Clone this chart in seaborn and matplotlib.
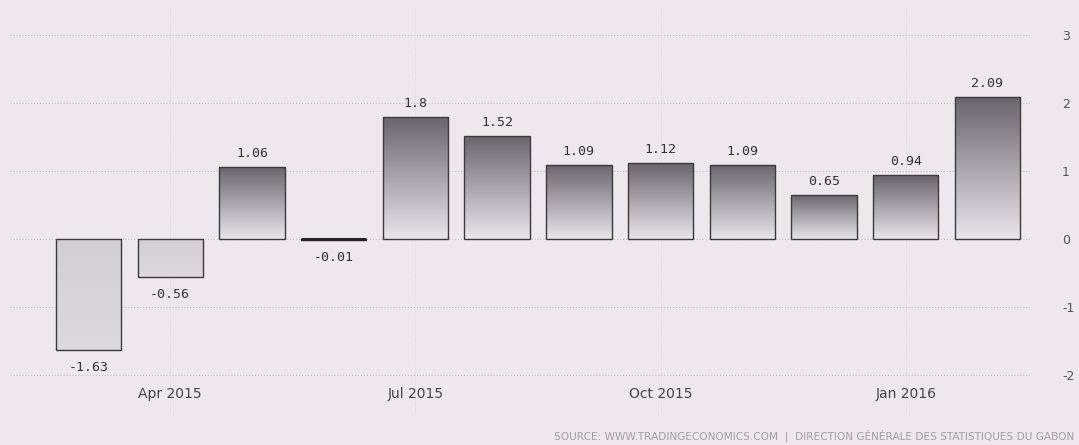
import numpy as np
import pandas as pd
import matplotlib
matplotlib.use("Agg")
import matplotlib.pyplot as plt
import seaborn as sns
from matplotlib.colors import LinearSegmentedColormap

months = ["Mar 2015", "Apr 2015", "May 2015", "Jun 2015", "Jul 2015", "Aug 2015",
          "Sep 2015", "Oct 2015", "Nov 2015", "Dec 2015", "Jan 2016", "Feb 2016"]
values = [-1.63, -0.56, 1.06, -0.01, 1.8, 1.52, 1.09, 1.12, 1.09, 0.65, 0.94, 2.09]
labels = ["-1.63", "-0.56", "1.06", "-0.01", "1.8", "1.52", "1.09", "1.12", "1.09", "0.65", "0.94", "2.09"]
xtick_show = ["Apr 2015", "Jul 2015", "Oct 2015", "Jan 2016"]
yticks = [-2, -1, 0, 1, 2, 3]

bg = "#ece8ec"
sns.set_theme(style="white")
plt.rcParams['font.family'] = ['DejaVu Sans']

fig = plt.figure(figsize=(10.79, 4.45), dpi=100, facecolor=bg)
ax = fig.add_axes([10/1079, 30/445, 1020/1079, 407/445])
ax.set_facecolor(bg)

df = pd.DataFrame({"month": months, "value": values})
sns.barplot(data=df, x="month", y="value", ax=ax, width=0.8,
            color="#cccccc", edgecolor="#3a3a3a", linewidth=1.0, zorder=3)

ax.set_xlim(-0.96, 11.52)
ax.set_ylim(-2.59, 3.40)

grad = np.linspace(0, 1, 256).reshape(-1, 1)
cmap_pos = LinearSegmentedColormap.from_list("p", ["#e8e6ea", "#68646c"])
cmap_neg = LinearSegmentedColormap.from_list("n", ["#dddadd", "#d2cfd3"])
for p, v in zip(ax.patches, values):
    x0, w = p.get_x(), p.get_width()
    y0, h = p.get_y(), p.get_height()
    ylo, yhi = min(y0, y0 + h), max(y0, y0 + h)
    im = ax.imshow(grad, extent=[x0, x0 + w, ylo, yhi], origin="lower",
                   cmap=cmap_pos if v >= 0 else cmap_neg, aspect="auto", zorder=3.5)
    im.set_clip_path(p)
    p.set_facecolor("none")
    p.set_zorder(4)
    if abs(v) < 0.05:
        ax.plot([x0, x0 + w], [0, 0], color="#222222", lw=2.2, zorder=5, solid_capstyle="butt")

ax.set_xlim(-0.96, 11.52)
ax.set_ylim(-2.59, 3.40)

for i, (v, t) in enumerate(zip(values, labels)):
    if v >= 0:
        ax.annotate(t, (i, v), xytext=(0, 5), textcoords="offset points",
                    ha="center", va="bottom", fontsize=9.5, color="#333333",
                    family="DejaVu Sans Mono")
    else:
        ax.annotate(t, (i, v), xytext=(0, -8), textcoords="offset points",
                    ha="center", va="top", fontsize=9.5, color="#333333",
                    family="DejaVu Sans Mono")

pos = [months.index(m) for m in xtick_show]
ax.set_xticks(pos)
ax.set_xticklabels(xtick_show, fontsize=10, color="#444444")
ax.tick_params(axis="x", length=0, pad=-20)
ax.set_xlabel("")
ax.set_ylabel("")

ax.yaxis.tick_right()
ax.set_yticks(yticks)
ax.set_yticklabels([str(t) for t in yticks], fontsize=9, color="#555555")
ax.tick_params(axis="y", length=0, pad=23)

ax.grid(True, axis="y", linestyle=":", color="#c4bfc4", lw=0.8, zorder=0)
ax.grid(True, axis="x", linestyle=":", color="#d6d1d6", lw=0.6, zorder=0)
for s in ax.spines.values():
    s.set_visible(False)

fig.text(1074/1079, 1 - 436/445,
         "SOURCE: WWW.TRADINGECONOMICS.COM  |  DIRECTION GÉNÉRALE DES STATISTIQUES DU GABON",
         ha="right", va="center", fontsize=7.6, color="#a29ea2")

fig.savefig("out.png", dpi=100, facecolor=bg)
